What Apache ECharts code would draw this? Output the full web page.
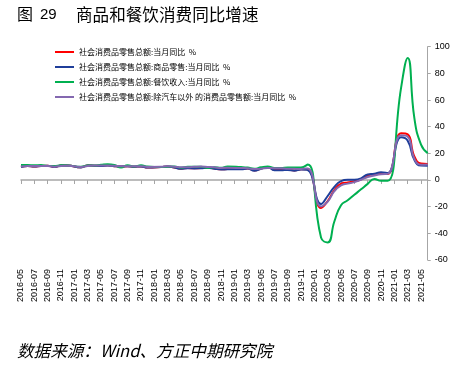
<!DOCTYPE html>
<html><head><meta charset="utf-8">
<script src="https://cdn.jsdelivr.net/npm/echarts@6/dist/echarts.min.js"></script>
<style>html,body{margin:0;padding:0;background:#fff}#c{width:474px;height:370px}</style>
</head><body><div id="c"></div>
<script>
const months = ['2016-05','2016-06','2016-07','2016-08','2016-09','2016-10','2016-11','2016-12',
'2017-01','2017-02','2017-03','2017-04','2017-05','2017-06','2017-07','2017-08','2017-09','2017-10','2017-11','2017-12',
'2018-01','2018-02','2018-03','2018-04','2018-05','2018-06','2018-07','2018-08','2018-09','2018-10','2018-11','2018-12',
'2019-01','2019-02','2019-03','2019-04','2019-05','2019-06','2019-07','2019-08','2019-09','2019-10','2019-11','2019-12',
'2020-01','2020-02','2020-03','2020-04','2020-05','2020-06','2020-07','2020-08','2020-09','2020-10','2020-11','2020-12',
'2021-01','2021-02','2021-03','2021-04','2021-05','2021-06'];
const seriesNames = ['社会消费品零售总额:当月同比  %','社会消费品零售总额:商品零售:当月同比  %','社会消费品零售总额:餐饮收入:当月同比  %','社会消费品零售总额:除汽车以外 的消费品零售额:当月同比  %'];
const totalRetail = [10.0,10.6,10.2,10.6,10.7,10.0,10.8,10.9,
 null,9.5,10.9,10.7,10.7,11.0,10.4,10.1,10.3,10.0,10.2,9.4,
 null,9.7,10.1,9.4,8.5,9.0,8.8,9.0,9.2,8.6,8.1,8.2,
 null,8.2,8.7,7.2,8.6,9.8,7.6,7.5,7.8,7.2,8.0,8.0,
 null,-21.0,-15.8,-7.5,-2.8,-1.8,-1.1,0.5,3.3,4.3,5.0,4.6,
 null,35.0,34.2,17.7,12.4,12.1];
const goodsRetail = [9.8,10.5,10.2,10.5,10.7,9.9,10.8,10.9,
 null,9.4,10.9,10.7,10.6,10.9,10.4,10.2,10.3,10.0,10.1,9.3,
 null,9.7,10.1,9.3,8.4,8.9,8.7,8.9,9.2,8.5,7.9,8.0,
 null,8.0,8.6,7.0,8.5,9.8,7.4,7.3,7.6,7.0,7.8,7.4,
 null,-18.0,-12.0,-5.1,-0.8,0.2,0.2,1.2,4.2,4.7,5.8,5.2,
 null,32.0,29.5,15.1,10.8,10.7];
const catering = [11.2,11.2,11.0,11.2,10.6,10.6,11.0,10.9,
 null,10.0,10.8,10.8,11.4,11.8,11.2,9.4,11.0,10.1,11.1,10.1,
 null,9.7,10.0,10.2,9.2,10.0,9.9,9.9,9.1,9.5,9.2,10.2,
 null,9.7,9.3,8.5,9.5,10.1,9.1,9.0,9.3,9.3,9.4,11.6,
 null,-43.1,-46.8,-31.1,-18.9,-15.2,-11.0,-7.0,-2.9,0.8,-0.6,-0.6,
 null,68.9,91.6,46.4,26.6,20.2];
const exAuto = [10.1,10.5,10.5,10.6,10.6,10.0,10.6,10.7,
 null,9.8,10.5,10.9,10.8,10.9,10.7,10.3,10.3,10.3,10.4,9.8,
 null,9.9,10.3,10.0,9.6,9.6,9.9,10.1,9.8,9.5,9.1,9.2,
 null,9.0,8.8,8.2,8.4,9.1,8.8,8.9,8.5,8.4,8.3,8.7,
 null,-19.8,-16.2,-8.4,-4.1,-2.7,-1.6,0.2,2.3,3.4,4.3,4.6,
 null,33.5,32.5,15.9,11.5,11.7];
const colors = ['#FF0000','#1F3E9A','#00B050','#8468B0'];
const values = [totalRetail, goodsRetail, catering, exAuto];

const chart = echarts.init(document.getElementById('c'));
const axisGray = '#A6A6A6';
chart.setOption({
  animation: false,
  graphic: [
    {type:'text', left:17, top:6, style:{text:'图', font:'16px "Noto Sans CJK SC"', fill:'#000'}},
    {type:'text', left:40, top:7, style:{text:'29', font:'15px "Liberation Sans"', fill:'#000'}},
    {type:'text', left:76, top:6, style:{text:'商品和餐饮消费同比增速', font:'16.6px "Noto Sans CJK SC"', fill:'#000'}},
    {type:'text', left:17, top:342, style:{text:'数据来源：Wind、方正中期研究院', font:'italic 16.6px "Noto Sans CJK SC"', fill:'#000'}}
  ],
  legend: {
    orient:'vertical', left:50, top:42, itemWidth:19, itemHeight:2, itemGap:5, icon:'rect',
    textStyle:{fontSize:8, lineHeight:10, fontFamily:'"Noto Sans CJK SC"', color:'#000'},
    data: seriesNames
  },
  grid: {left:21, right:46.3, top:46.7, bottom:110, containLabel:false},
  xAxis: [
    {type:'category', data:months, boundaryGap:false,
     axisLine:{onZero:true, lineStyle:{color:axisGray, width:1.5}},
     axisTick:{interval:1, length:4, lineStyle:{color:axisGray}},
     axisLabel:{show:false}, splitLine:{show:false}},
    {type:'category', data:months, boundaryGap:false, position:'bottom',
     axisLine:{show:false, onZero:false}, axisTick:{show:false},
     axisLabel:{interval:1, rotate:90, fontSize:9, margin:9, color:'#000', fontFamily:'"Liberation Sans"'}}
  ],
  yAxis: {type:'value', position:'right', min:-60, max:100, interval:20,
    axisLine:{show:true, lineStyle:{color:axisGray}},
    axisTick:{show:true, length:3, lineStyle:{color:axisGray}},
    axisLabel:{fontSize:9, margin:7, color:'#000', fontFamily:'"Liberation Sans"'},
    splitLine:{show:false}},
  series: values.map((v,i)=>({
    name: seriesNames[i], type:'line', xAxisIndex:0, data:v, smooth:0.5, connectNulls:true,
    showSymbol:false, symbol:'none', z: 2+i,
    lineStyle:{color:colors[i], width:2}, itemStyle:{color:colors[i]}
  }))
});
</script></body></html>
